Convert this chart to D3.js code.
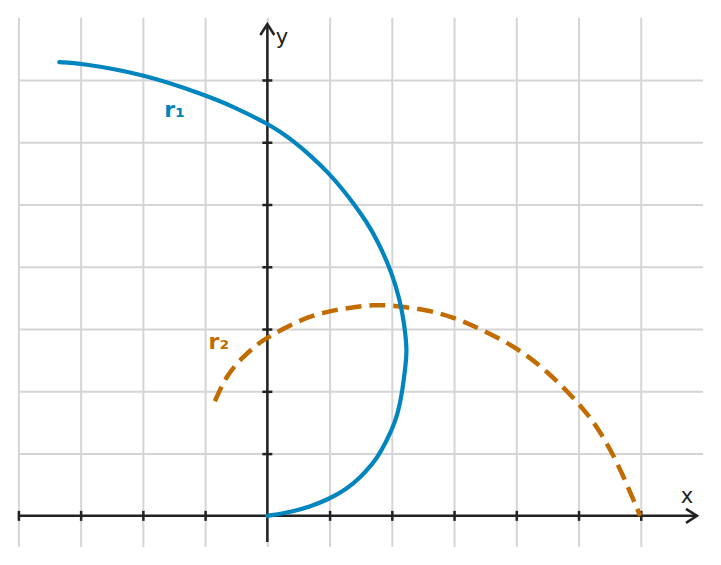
<!DOCTYPE html>
<html><head><meta charset="utf-8">
<script src="https://cdn.jsdelivr.net/npm/d3@7"></script>
<style>
html,body{margin:0;padding:0;background:#fff;}
svg{display:block;font-family:"DejaVu Sans",sans-serif;}
</style></head>
<body>
<svg id="c" width="721" height="565"></svg>
<script>
// grid / tick values
const gridX = [-4,-3,-2,-1,0,1,2,3,4,5,6];
const gridY = [1,2,3,4,5,6,7];
const ticksX = [-4,-3,-2,-1,1,2,3,4,5,6];
const ticksY = [1,2,3,4,5,6,7];
// curve r1 (solid blue)
const r1x = [0, 0.414, 0.683, 0.988, 1.272, 1.485, 1.699, 1.807, 2.004, 2.100, 2.171, 2.224, 2.245, 2.20, 2.128, 2.004, 1.779, 1.593, 1.394, 1.217, 0.988, 0.683, 0.414, 0.201, 0, -0.120, -0.549, -1.009, -2.0, -3.011, -3.343];
const r1y = [0, 0.069, 0.149, 0.268, 0.429, 0.605, 0.846, 0.996, 1.381, 1.649, 2.007, 2.452, 2.65, 3.095, 3.469, 3.898, 4.405, 4.726, 5.006, 5.235, 5.503, 5.797, 6.022, 6.172, 6.295, 6.359, 6.573, 6.761, 7.098, 7.270, 7.286];
// curve r2 (dashed orange)
const r2x = [-0.843, -0.655, -0.401, -0.136, 0.0, 0.21, 0.58, 0.99, 1.38, 1.70, 2.01, 2.56, 2.99, 3.41, 4.0, 4.48, 5.0, 5.34, 5.66, 5.99];
const r2y = [1.84, 2.26, 2.545, 2.778, 2.86, 2.98, 3.17, 3.29, 3.35, 3.39, 3.38, 3.31, 3.19, 3.01, 2.71, 2.34, 1.82, 1.38, 0.79, 0.0];
const labels = [{t:"r₁", x:-1.49, y:6.4, c:"#0085be"}, {t:"r₂", x:-0.78, y:2.68, c:"#c26c00"}];

const svg = d3.select("#c");
const x = d3.scaleLinear().domain([-4,7]).range([18.4,703]);
const y = d3.scaleLinear().domain([-0.5,8]).range([547,17.7]);

// grid
svg.append("g").attr("transform",`translate(0,${y(-0.5)})`)
  .call(d3.axisBottom(x).tickValues(gridX).tickSize(-(y(-0.5)-y(8))).tickFormat(""))
  .call(g=>{g.select(".domain").remove();g.selectAll("line").attr("stroke","#d5d5d5").attr("stroke-width",2);});
svg.append("g").attr("transform",`translate(${x(-4)},0)`)
  .call(d3.axisLeft(y).tickValues(gridY).tickSize(-(x(7)-x(-4))).tickFormat(""))
  .call(g=>{g.select(".domain").remove();g.selectAll("line").attr("stroke","#d5d5d5").attr("stroke-width",2);});

const axCol = "#222";
// x axis
const xa = svg.append("g").attr("transform",`translate(0,${y(0)})`)
  .call(d3.axisBottom(x).tickValues(ticksX).tickSize(5).tickFormat(""));
xa.select(".domain").remove();
xa.selectAll("line").attr("y1",-5).attr("y2",5).attr("stroke",axCol).attr("stroke-width",2.5);
svg.append("line").attr("x1",x(-4)).attr("x2",697).attr("y1",y(0)).attr("y2",y(0)).attr("stroke",axCol).attr("stroke-width",2.5);
svg.append("path").attr("d",`M${697-11},${y(0)-7}L697,${y(0)}L${697-11},${y(0)+7}`).attr("fill","none").attr("stroke",axCol).attr("stroke-width",2.5);
// y axis
const ya = svg.append("g").attr("transform",`translate(${x(0)},0)`)
  .call(d3.axisLeft(y).tickValues(ticksY).tickSize(5).tickFormat(""));
ya.select(".domain").remove();
ya.selectAll("line").attr("x1",-5).attr("x2",5).attr("stroke",axCol).attr("stroke-width",2.5);
svg.append("line").attr("x1",x(0)).attr("x2",x(0)).attr("y1",542).attr("y2",24).attr("stroke",axCol).attr("stroke-width",2.5);
svg.append("path").attr("d",`M${x(0)-7},${24+11}L${x(0)},24L${x(0)+7},${24+11}`).attr("fill","none").attr("stroke",axCol).attr("stroke-width",2.5);

svg.append("text").attr("x",687).attr("y",503).attr("text-anchor","middle").attr("font-size",21).attr("fill",axCol).text("x");
svg.append("text").attr("x",282).attr("y",44).attr("text-anchor","middle").attr("font-size",21).attr("fill",axCol).text("y");

const line = d3.line().x(d=>x(d[0])).y(d=>y(d[1])).curve(d3.curveBasis);
const p1 = r1x.map((v,i)=>[v,r1y[i]]);
const p2 = r2x.map((v,i)=>[v,r2y[i]]);
svg.append("path").attr("d",line(p2)).attr("fill","none").attr("stroke","#c26c00").attr("stroke-width",4.5).attr("stroke-dasharray","16,8");
svg.append("path").attr("d",line(p1)).attr("fill","none").attr("stroke","#0085be").attr("stroke-width",4.2).attr("stroke-linecap","round");

svg.selectAll("text.lbl").data(labels).enter().append("text").attr("class","lbl")
  .attr("x",d=>x(d.x)).attr("y",d=>y(d.y)).attr("text-anchor","middle")
  .attr("font-size",22).attr("font-weight","bold").attr("fill",d=>d.c).text(d=>d.t);
</script>
</body></html>
